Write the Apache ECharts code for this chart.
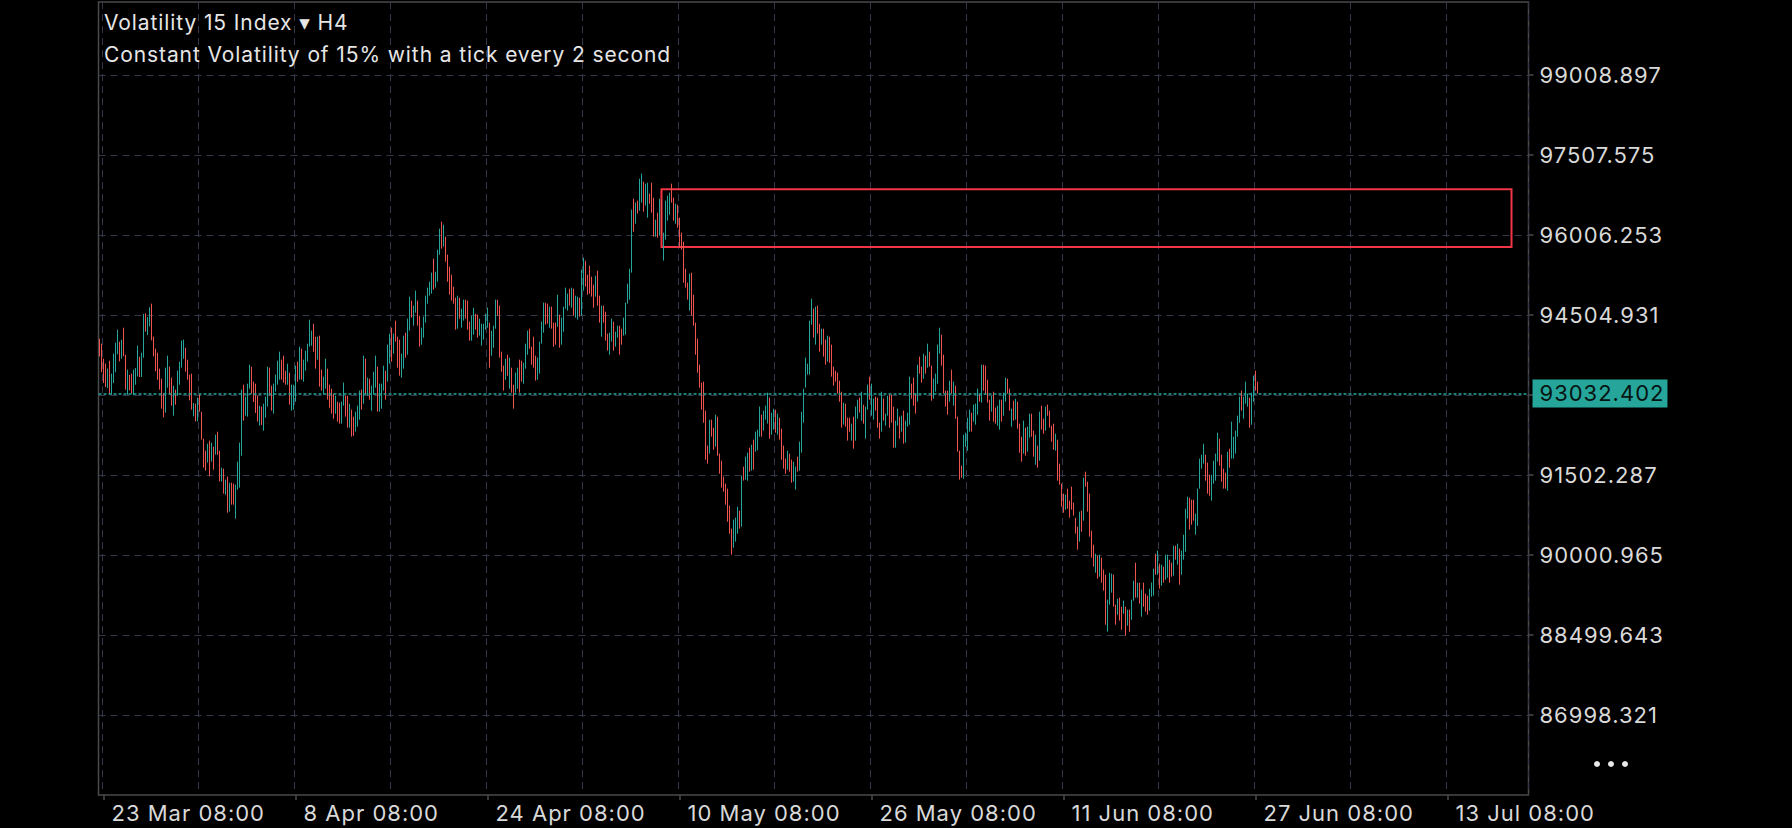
<!DOCTYPE html>
<html lang="en">
<head>
  <meta charset="UTF-8">
  <title>Volatility 15 Index H4</title>
  <style>
    html, body { margin: 0; padding: 0; background: #000; }
    #main { width: 1792px; height: 828px; }
    /* axis labels and the title are a bit wider spaced */
    #main text[style*="22px"] { letter-spacing: 1px; }
    #main text[style*="21px"] { letter-spacing: 0.9px; }
  </style>
</head>
<body>
  <div id="main"></div>
  <script src="https://cdn.jsdelivr.net/npm/echarts@6.0.0/dist/echarts.min.js"></script>
  <script>
    // H4 bars, first one 23 Mar 00:00
    var opens = [
      94061,93967,93685,93592,93135,93648,93010,93229,93429,93767,
      94004,93685,94267,93760,93010,93379,93404,92997,93197,93354,
      93723,93341,93704,94536,94130,94292,94718,94098,93873,93798,
      93498,93310,93041,92672,93141,93535,93329,92616,93104,92991,
      93197,93517,93685,93892,93667,93385,93404,92603,92841,92509,
      93029,92691,92184,91959,91734,92147,91752,92034,91884,92315,
      91959,91377,91621,91133,91471,90814,91358,91340,90683,91227,
      91265,91865,93197,92616,92597,93122,93535,93254,93216,92991,
      92428,92785,92334,92578,92785,93517,93179,92653,93066,93197,
      93291,93667,93742,93460,93197,93423,92710,92728,92878,93629,
      93291,93873,93254,93460,93629,93911,93929,94342,94098,93667,
      94117,93479,93010,93122,93498,93197,93122,93029,92653,92878,
      92860,92466,92803,92991,92991,92391,92728,92597,92315,92409,
      92541,93104,92841,93685,92991,93310,92710,93010,93141,93535,
      92691,92747,93085,93460,93254,93592,94267,93779,94399,94098,
      94042,93329,93498,94173,93760,94211,94774,94305,94549,94774,
      94492,93948,94080,94361,94718,94868,94905,95562,95018,95130,
      95637,96256,95787,95975,95637,95412,95262,95037,94830,94248,
      94830,94267,94399,94793,94774,94380,94023,94136,94530,94511,
      94117,93929,94042,94230,94267,94361,93742,93892,94248,94793,
      94680,93817,93554,93291,93760,93122,93517,93197,93047,93122,
      93667,93648,93216,93498,93760,94248,93911,94098,93742,93291,
      93404,93967,94173,94736,94718,94267,94661,94361,94361,94286,
      94511,93948,94192,94624,94586,94999,94642,94999,94455,94417,
      94830,94492,94962,95525,95262,95431,95224,95074,94849,95337,
      94868,94098,94680,94567,94155,93760,94004,94380,93911,94080,
      94305,94248,94117,94136,94718,94793,95299,96688,96219,96651,
      96463,96613,97007,96557,96331,96782,96988,96707,95975,96425,
      95994,96669,95525,95919,96275,96388,96970,96707,96219,96575,
      96331,96050,95881,95374,95112,94586,95299,94886,94361,94061,
      93573,93235,93254,92710,92053,91903,92541,92391,92034,92597,
      91903,91771,91471,91340,91246,90927,90495,90139,90251,90401,
      90833,90533,91659,91415,91396,92015,91584,92165,91940,91965,
      92222,92634,92334,92541,92466,92954,92259,92353,92728,92259,
      92578,92372,92053,91809,91602,91903,91790,91377,91227,91846,
      91584,91921,92484,93141,93385,93385,94323,94624,93948,94680,
      94342,93948,94248,94042,93629,94098,93948,93535,93460,93423,
      93273,93066,92447,92841,92578,92578,92147,92597,92147,92559,
      92954,92522,92822,92184,92728,93348,92616,92541,92972,92954,
      92484,92315,92935,92428,92616,93010,93010,92785,92015,92428,
      92597,92315,92710,92109,92409,92447,93216,93329,93029,92878,
      93723,93535,93310,93742,93517,93817,93554,92935,93066,93216,
      93779,94136,93760,93085,93085,92878,93479,92803,93179,92597,
      91959,91677,91433,92034,91959,92315,92672,92503,92447,92634,
      93010,92860,93573,93554,93291,92916,92691,93066,92766,92428,
      92353,92916,92616,92878,93310,93122,92409,92897,92541,92878,
      92466,92222,91903,92391,91940,92203,92653,92334,91696,92053,
      91771,92803,92559,92334,92822,92710,92428,92466,91959,92165,
      91715,91340,91152,90852,91246,91021,91283,90983,90701,90533,
      90251,90833,90645,91565,91377,91152,90458,90195,89669,89988,
      89594,89951,89726,89632,88562,89069,89294,89632,89069,88881,
      89200,89031,88900,89031,88675,88975,88787,89144,89857,89200,
      89482,88844,89482,89275,89238,88956,89219,89238,90026,89632,
      89838,89425,89782,89538,89575,89913,89857,89613,90176,89819,
      90120,89632,89913,90063,90683,91077,91039,91039,90382,90551,
      91246,91621,91715,91884,91734,91508,91021,91340,91396,91752,
      92184,91884,91621,91546,91208,91996,91809,91809,91903,92222,
      92484,93085,92559,92841,92785,92953,92447,92878,93460,93254
    ];
    var closes = [
      93729,93429,93229,93154,93498,93010,93404,93779,93986,94230,
      93635,94042,93729,93104,93479,93091,93029,93479,93510,93929,
      93341,93798,94524,94192,94467,94649,94029,93729,93448,93291,
      93104,92747,92584,93517,93742,93010,92803,93179,92822,93460,
      93629,94023,94042,93441,93291,92903,92728,92853,92509,92954,
      92691,92165,91640,91584,92090,91477,92109,91602,92259,91884,
      91383,91640,91152,91415,90795,91358,90945,90945,91321,91752,
      92109,93104,92522,92972,93216,93573,93029,92872,92666,92503,
      92803,92441,92841,92972,93535,92991,92710,93216,93385,93648,
      93817,93291,93235,93197,93592,92822,93197,93197,93554,93254,
      93911,93291,93667,93836,93967,94417,94211,93817,93498,94098,
      93160,93085,93348,93685,92916,92766,92653,92559,92991,92503,
      92466,92878,93235,92597,92391,92841,92222,92240,92691,92803,
      93085,92728,93742,93010,93329,92916,93179,93441,93742,92691,
      93216,93216,93554,92916,93948,94155,93629,94155,94004,93517,
      93366,93779,94117,93704,94436,94849,94455,94680,94962,94305,
      93911,94267,94474,94868,95018,95130,95299,94980,95318,95731,
      96125,95750,96200,95506,95130,94886,94774,94718,94230,94868,
      94436,94624,94793,94436,94230,94023,94492,94642,94230,94080,
      94436,94342,94342,94530,94642,93517,94211,94305,94793,94492,
      93704,93441,93085,93685,93366,93704,93047,92747,93423,93517,
      93047,93254,93610,93967,94211,93873,93573,93517,93273,93704,
      94004,94380,94736,94323,94342,94661,94248,93911,93948,94886,
      93892,94455,94661,95018,94905,94680,95018,94492,94868,94849,
      94474,95356,95581,95037,94886,94905,94849,94642,95243,94680,
      94361,94680,94361,94023,93836,94173,94436,93836,94192,94305,
      93760,93948,94455,94736,95093,95374,96482,96069,96613,96407,
      97063,97157,96444,96970,96988,96594,96425,95975,96294,95956,
      96688,96012,96050,96651,96744,96801,96613,96275,96594,96144,
      95768,95731,95112,95018,94793,95281,94492,94305,93760,93423,
      93141,92728,92484,91790,91715,92541,92222,91978,92634,91865,
      91527,91265,91189,90945,90626,90401,90007,90664,90702,90908,
      90495,91490,91396,91846,91921,91565,92071,91602,92315,92353,
      92785,92222,92710,92803,93047,92184,92672,92747,92297,92653,
      92165,91790,91621,91527,91959,91565,91358,91752,91659,91565,
      92128,92691,93122,93704,93592,94399,94811,94080,94661,94155,
      93817,94248,93723,93573,94117,93610,93348,93179,93254,93029,
      92878,92391,92860,92409,92147,92315,92466,91996,92785,92916,
      92672,93066,92466,92785,93197,92916,93216,92935,92710,92391,
      92184,93066,92522,92653,92991,92391,92484,92015,92522,92747,
      92184,92616,92090,92522,92672,93348,92935,92803,92653,93573,
      93404,93235,93779,93404,93967,93535,92897,93310,93404,93948,
      94267,93554,93029,92785,92634,93273,93029,93254,92559,91940,
      91415,91452,92259,92297,92578,92728,92315,92822,92841,93122,
      92878,93573,93085,93010,92860,92522,92991,92503,92466,92803,
      92916,92503,93047,93329,93029,92710,92747,92522,92935,92372,
      91921,91752,92522,91865,92409,92653,92222,91846,92259,91640,
      92691,92353,92278,92785,92616,92391,92128,91978,92278,91396,
      91321,90908,90795,91133,90870,90702,90852,90739,90401,90101,
      90814,90439,91452,91283,90814,90345,89951,89782,90026,89557,
      90007,89482,89332,88693,89163,89669,89651,89031,88693,89181,
      88769,88600,89144,88487,88975,88562,89163,89519,89200,89482,
      89088,89350,89031,88937,88881,89369,89482,89744,89632,90082,
      89369,89819,89482,90007,90007,89482,89594,90176,89913,90214,
      89444,90082,90382,90870,91096,90476,90570,90645,90777,91246,
      91809,91884,92090,91396,91152,91114,91508,91771,91903,92297,
      91677,91377,91246,91246,91940,91640,92503,92222,92334,92616,
      92972,92710,92972,93254,93029,92390,93047,93366,93085,93032.402
    ];

    var dateTicks = ['23 Mar 08:00', '8 Apr 08:00', '24 Apr 08:00', '10 May 08:00',
      '26 May 08:00', '11 Jun 08:00', '27 Jun 08:00', '13 Jul 08:00'];
    var priceTicks = [86998.321, 88499.643, 90000.965, 91502.287, 93003.609,
      94504.931, 96006.253, 97507.575, 99008.897];
    var priceLabels = [86998.321, 88499.643, 90000.965, 91502.287,
      94504.931, 96006.253, 97507.575, 99008.897];
    var yMin = 85496.999, yMax = 100378.86;

    // red supply box drawn on the chart
    var zone = { fromBar: 281, toBar: 706, low: 95782, high: 96863 };

    // time slots: 4h each, chart runs past the last bar
    var monthNames = ['Jan', 'Feb', 'Mar', 'Apr', 'May', 'Jun', 'Jul', 'Aug', 'Sep', 'Oct', 'Nov', 'Dec'];
    var start = Date.UTC(2024, 2, 23, 0);
    var categories = [];
    for (var i = 0; i < 715; i++) {
      var d = new Date(start + i * 4 * 3600 * 1000);
      var h = d.getUTCHours();
      categories.push(d.getUTCDate() + ' ' + monthNames[d.getUTCMonth()] + ' ' + (h < 10 ? '0' + h : h) + ':00');
    }

    var candles = [];
    for (var j = 0; j < opens.length; j++) {
      candles.push([opens[j], closes[j], Math.min(opens[j], closes[j]), Math.max(opens[j], closes[j])]);
    }
    var lastPrice = closes[closes.length - 1];

    var up = '#26a69a', down = '#ef5350';
    var gridColor = '#34364a';
    var labelColor = '#d9d9d9';

    var isDateTick = function (idx, val) { return dateTicks.indexOf(val) >= 0; };

    var myChart = echarts.init(document.getElementById('main'), null, { renderer: 'svg' });

    var option = {
      backgroundColor: '#000',
      animation: false,
      title: {
        text: 'Volatility 15 Index ▾ H4',
        subtext: 'Constant Volatility of 15% with a tick every 2 second',
        left: 104,
        top: 10,
        itemGap: 8,
        padding: 0,
        textStyle: { fontFamily: 'Inter, DejaVu Sans', fontSize: 21, fontWeight: 'normal', lineHeight: 24, color: '#e6e6e6' },
        subtextStyle: { fontFamily: 'Inter', fontSize: 21, lineHeight: 24, color: '#e6e6e6' }
      },
      grid: {
        left: 98.5,
        right: 263.5,
        top: 2,
        bottom: 33,
        show: true,
        borderColor: '#4a4a4a',
        borderWidth: 1.5
      },
      xAxis: {
        type: 'category',
        data: categories,
        boundaryGap: true,
        axisLine: { show: false },
        axisTick: {
          show: true, alignWithLabel: true, interval: isDateTick, length: 5,
          lineStyle: { color: '#4a4a4a', width: 1.5 }
        },
        axisLabel: {
          interval: isDateTick,
          align: 'left',
          padding: [0, 0, 0, 8],
          margin: 7,
          color: labelColor,
          fontFamily: 'Inter',
          fontSize: 22,
          lineHeight: 22
        },
        splitLine: {
          show: true,
          interval: function (idx) { return (idx - 2) % 48 === 0; },
          lineStyle: { color: gridColor, type: [7, 5], width: 1 }
        }
      },
      yAxis: {
        type: 'value',
        position: 'right',
        min: yMin,
        max: yMax,
        axisLine: { show: false },
        axisTick: {
          show: true, length: 5, customValues: priceTicks,
          lineStyle: { color: '#4a4a4a', width: 1.5 }
        },
        axisLabel: {
          customValues: priceLabels,
          margin: 11,
          color: labelColor,
          fontFamily: 'Inter',
          fontSize: 22,
          formatter: function (v) { return v.toFixed(3); }
        },
        splitLine: {
          show: true,
          lineStyle: { color: gridColor, type: [7, 5], width: 1 }
        }
      },
      graphic: [
        { type: 'circle', shape: { cx: 1597, cy: 764, r: 3 }, style: { fill: '#e8e8e8' } },
        { type: 'circle', shape: { cx: 1611, cy: 764, r: 3 }, style: { fill: '#e8e8e8' } },
        { type: 'circle', shape: { cx: 1625, cy: 764, r: 3 }, style: { fill: '#e8e8e8' } }
      ],
      series: [{
        type: 'candlestick',
        data: candles,
        large: true,
        largeThreshold: 100,
        barWidth: 1,
        itemStyle: {
          color: up,
          color0: down,
          borderColor: up,
          borderColor0: down,
          borderWidth: 1
        },
        markLine: {
          silent: true,
          symbol: ['none', 'none'],
          data: [{ yAxis: lastPrice }],
          lineStyle: { color: up, type: [3, 2], width: 1.5 },
          label: {
            show: true,
            position: 'end',
            distance: 4,
            formatter: function () { return lastPrice.toFixed(3); },
            backgroundColor: up,
            color: '#061412',
            fontFamily: 'Inter',
            fontSize: 22,
            lineHeight: 22,
            padding: [3, 12, 3, 7]
          }
        },
        markArea: {
          silent: true,
          itemStyle: { color: 'rgba(0,0,0,0)', borderColor: '#f23645', borderWidth: 2 },
          data: [[
            { xAxis: zone.fromBar, yAxis: zone.high },
            { xAxis: zone.toBar, yAxis: zone.low }
          ]]
        }
      }]
    };

    myChart.setOption(option);
  </script>
</body>
</html>
